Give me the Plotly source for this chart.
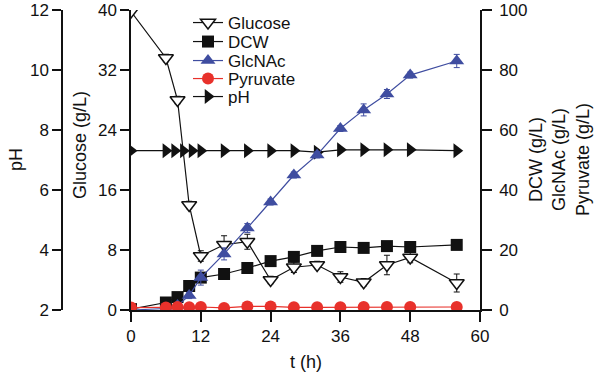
import plotly.graph_objects as go

# ---------------- data ----------------
t = [0, 6, 8, 10, 12, 16, 20, 24, 28, 32, 36, 40, 44, 48, 56]
glucose = [39.8, 33.6, 28.0, 14.0, 7.2, 8.7, 9.1, 4.0, 5.7, 6.0, 4.4, 3.7, 6.0, 7.0, 3.6]
glucose_err = [0.4, 0.5, 0.5, 0.5, 0.7, 1.2, 1.0, 0.5, 0.7, 0.5, 0.7, 0.5, 1.3, 0.7, 1.2]
dcw = [0.3, 2.5, 4.3, 8.0, 10.8, 12.0, 14.0, 16.3, 17.7, 19.7, 21.0, 20.7, 21.3, 21.0, 21.7]
glcnac = [0.0, 0.5, 1.5, 4.8, 10.8, 18.7, 27.3, 36.0, 45.0, 51.7, 60.5, 66.7, 72.0, 78.3, 83.0]
glcnac_err = [0, 0, 0, 1.0, 2.5, 2.0, 1.5, 1.0, 1.0, 1.0, 1.0, 2.0, 1.5, 1.0, 2.2]
pyruvate = [0.8, 0.8, 1.0, 0.9, 1.0, 0.7, 1.2, 1.2, 0.9, 0.9, 0.9, 1.0, 1.0, 1.0, 1.0]
t_ph = [0, 6, 7.5, 9, 10.5, 12, 16, 20, 24, 28, 32, 36, 40, 44, 48, 56]
ph = [7.31, 7.31, 7.31, 7.31, 7.31, 7.31, 7.31, 7.31, 7.31, 7.31, 7.26, 7.34, 7.34, 7.34, 7.34, 7.31]

x_ticks = [0, 12, 24, 36, 48, 60]
glu_ticks = [0, 8, 16, 24, 32, 40]
ph_ticks = [2, 4, 6, 8, 10, 12]
right_ticks = [0, 20, 40, 60, 80, 100]

# ---------------- layout helpers ----------------
W, H = 598, 378
FONT = "Liberation Sans, Arial, sans-serif"
px = lambda v: v / W
py = lambda v: 1 - v / H

BLACK = "#111111"
BLUE = "#3f4da0"
RED = "#e8312b"

fig = go.Figure()

fig.add_trace(go.Scatter(
    x=t, y=glucose, name="Glucose", mode="lines+markers", yaxis="y",
    line=dict(color=BLACK, width=1.2),
    marker=dict(symbol="triangle-down", size=13, color="white", line=dict(color=BLACK, width=1.5)),
    error_y=dict(type="data", array=glucose_err, color=BLACK, thickness=1, width=3),
    cliponaxis=True, legend="legend",
))
fig.add_trace(go.Scatter(
    x=t_ph, y=ph, name="pH", mode="lines+markers", yaxis="y2",
    line=dict(color=BLACK, width=1.2),
    marker=dict(symbol="triangle-right", size=13, color=BLACK),
    cliponaxis=True, legend="legend5",
))
fig.add_trace(go.Scatter(
    x=t, y=dcw, name="DCW", mode="lines+markers", yaxis="y3",
    line=dict(color=BLACK, width=1.2),
    marker=dict(symbol="square", size=12, color=BLACK),
    cliponaxis=True, legend="legend2",
))
fig.add_trace(go.Scatter(
    x=t, y=glcnac, name="GlcNAc", mode="lines+markers", yaxis="y3",
    line=dict(color=BLUE, width=1.2),
    marker=dict(symbol="triangle-up", size=13, color=BLUE),
    error_y=dict(type="data", array=glcnac_err, color=BLUE, thickness=1, width=3),
    cliponaxis=True, legend="legend3",
))
fig.add_trace(go.Scatter(
    x=t, y=pyruvate, name="Pyruvate", mode="lines+markers", yaxis="y3",
    line=dict(color=RED, width=1.2),
    marker=dict(symbol="circle", size=12, color=RED),
    cliponaxis=True, legend="legend4",
))

axis_common = dict(showgrid=False, zeroline=False, showline=True, linecolor=BLACK, linewidth=1.5,
                   ticks="outside", tickcolor=BLACK, tickwidth=1.5, ticklen=9, automargin=False,
                   tickfont=dict(family=FONT, size=17, color=BLACK))

fig.update_layout(
    width=W, height=H, margin=dict(l=0, r=0, t=0, b=0, autoexpand=False),
    paper_bgcolor="white", plot_bgcolor="white",
    font=dict(family=FONT, size=17, color=BLACK),
    showlegend=True,
    xaxis=dict(domain=[px(131), px(480)], range=[0, 60], tickvals=x_ticks, anchor="y",
               **{**axis_common, "ticklen": 10}),
    yaxis=dict(domain=[1 - 310 / H, 1 - 10 / H], range=[0, 40], tickvals=glu_ticks, side="left",
               anchor="x", **axis_common),
    yaxis2=dict(overlaying="y", anchor="free", position=px(62), side="left", range=[2, 12],
                tickvals=ph_ticks, **axis_common),
    yaxis3=dict(overlaying="y", anchor="x", side="right", range=[0, 100], tickvals=right_ticks,
                ticklabelstandoff=4, **{**axis_common, "ticklen": 10}),
)

# one legend per entry for exact spacing
leg_y = [23, 42, 61, 79, 97]
for i, yy in enumerate(leg_y):
    key = "legend" if i == 0 else f"legend{i+1}"
    fig.layout[key] = dict(x=px(188), y=py(yy), xanchor="left", yanchor="middle",
                           bgcolor="rgba(0,0,0,0)", borderwidth=0,
                           font=dict(family=FONT, size=17, color=BLACK), itemwidth=30)

ann = dict(xref="paper", yref="paper", showarrow=False, xanchor="center", yanchor="middle",
           font=dict(family=FONT, size=18, color=BLACK))
fig.add_annotation(text="pH", x=px(16), y=py(160), textangle=-90, **ann)
fig.add_annotation(text="Glucose (g/L)", x=px(80), y=py(145), textangle=-90, **ann)
fig.add_annotation(text="DCW (g/L)<br>GlcNAc (g/L)<br>Pyruvate (g/L)", x=px(559), y=py(160),
                   textangle=-90, **ann)
fig.add_annotation(text="t (h)", x=px(306), y=py(362), **ann)

fig.write_html("out.html", config={"displayModeBar": False},
               post_script="document.body.style.margin='0';")
